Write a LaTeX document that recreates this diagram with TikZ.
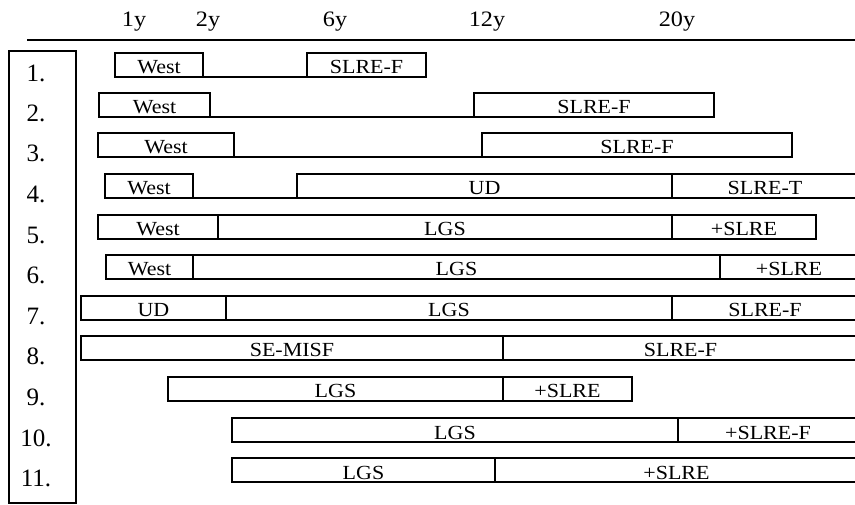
\documentclass[tikz,border=0pt]{standalone}
\usepackage{fontspec}
\setmainfont{Liberation Serif}
\newfontfamily\widefont[FakeStretch=1.1]{Liberation Serif}
\usetikzlibrary{positioning}

\begin{document}
\begin{tikzpicture}[
    x=1pt, y=-1pt,
    seg/.style={draw, rectangle, line width=1.2pt, outer sep=0pt, inner sep=0pt,
      minimum height=24pt, anchor=west, text height=18pt, text depth=0pt,
      font=\widefont\fontsize{20}{20}\selectfont},
    tick/.style={anchor=base, font=\widefont\fontsize{22}{22}\selectfont},
    num/.style={font=\fontsize{25}{25}\selectfont},
    link/.style={line width=1.2pt}
  ]
    \clip (0,0) rectangle (855,505);
    % time axis
    \node[tick] (t1) at (134,27) {1y};
    \node[tick] (t2) at (208,27) {2y};
    \node[tick] (t6) at (335,27) {6y};
    \node[tick] (t12) at (487,27) {12y};
    \node[tick] (t20) at (677,27) {20y};
    \draw[link] (27,40) -- (855,40);
    % patient numbers
    \draw[link] (9,51) rectangle (76,503);
    \node[num] (n1) at (36,73) {1.};
    \node[num] (n2) at (36,113) {2.};
    \node[num] (n3) at (36,153) {3.};
    \node[num] (n4) at (36,194) {4.};
    \node[num] (n5) at (36,235) {5.};
    \node[num] (n6) at (36,275) {6.};
    \node[num] (n7) at (36,316) {7.};
    \node[num] (n8) at (36,356) {8.};
    \node[num] (n9) at (36,397) {9.};
    \node[num] (n10) at (36,438) {10.};
    \node[num] (n11) at (36,478) {11.};
    % row 1
    \node[seg, minimum width=88pt] (w1) at (115,65) {West};
    \node[seg, minimum width=119pt] (s1) at (307,65) {SLRE-F};
    \draw[link] (w1.south east) -- (s1.south west);
    % row 2
    \node[seg, minimum width=111pt] (w2) at (99,105) {West};
    \node[seg, minimum width=240pt] (s2) at (474,105) {SLRE-F};
    \draw[link] (w2.south east) -- (s2.south west);
    % row 3
    \node[seg, minimum width=136pt] (w3) at (98,145) {West};
    \node[seg, minimum width=310pt] (s3) at (482,145) {SLRE-F};
    \draw[link] (w3.south east) -- (s3.south west);
    % row 4
    \node[seg, minimum width=88pt] (w4) at (105,186) {West};
    \node[seg, minimum width=375pt] (u4) at (297,186) {UD};
    \node[seg, minimum width=186pt] (s4) at (672,186) {SLRE-T};
    \draw[link] (w4.south east) -- (u4.south west);
    % row 5
    \node[seg, minimum width=120pt] (w5) at (98,227) {West};
    \node[seg, minimum width=454pt] (l5) at (218,227) {LGS};
    \node[seg, minimum width=144pt] (s5) at (672,227) {+SLRE};
    % row 6
    \node[seg, minimum width=87pt] (w6) at (106,267) {West};
    \node[seg, minimum width=527pt] (l6) at (193,267) {LGS};
    \node[seg, minimum width=138pt] (s6) at (720,267) {+SLRE};
    % row 7
    \node[seg, minimum width=145pt] (u7) at (81,308) {UD};
    \node[seg, minimum width=446pt] (l7) at (226,308) {LGS};
    \node[seg, minimum width=186pt] (s7) at (672,308) {SLRE-F};
    % row 8
    \node[seg, minimum width=422pt] (m8) at (81,348) {SE-MISF};
    \node[seg, minimum width=355pt] (s8) at (503,348) {SLRE-F};
    % row 9
    \node[seg, minimum width=335pt] (l9) at (168,389) {LGS};
    \node[seg, minimum width=129pt] (s9) at (503,389) {+SLRE};
    % row 10
    \node[seg, minimum width=446pt] (l10) at (232,430) {LGS};
    \node[seg, minimum width=180pt] (s10) at (678,430) {+SLRE-F};
    % row 11
    \node[seg, minimum width=263pt] (l11) at (232,470) {LGS};
    \node[seg, minimum width=363pt] (s11) at (495,470) {+SLRE};
\end{tikzpicture}
\end{document}
